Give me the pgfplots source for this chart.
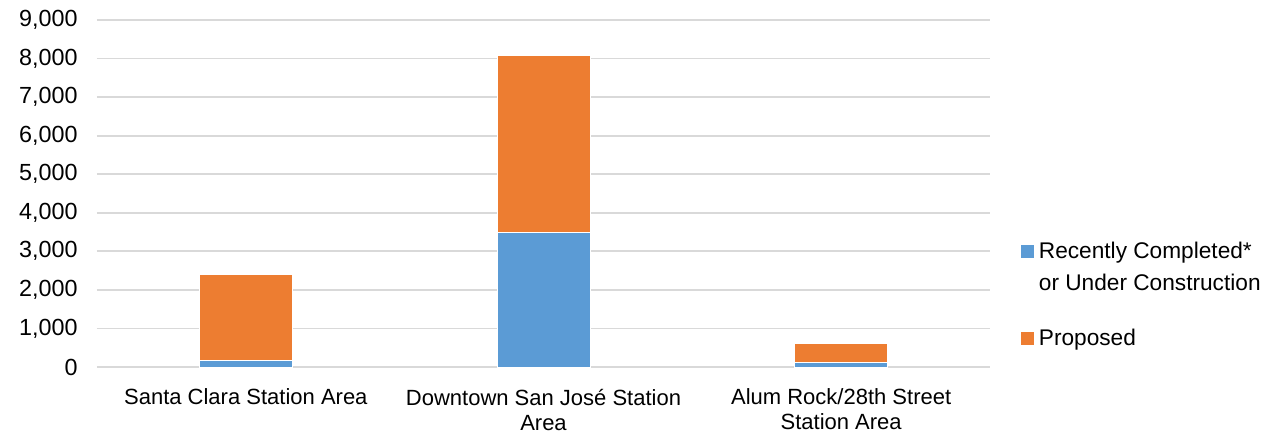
\documentclass[border=0pt]{standalone}
\usepackage{pgfplots}
\pgfplotsset{compat=1.18}
\usepackage{fontspec}
\setmainfont{Liberation Sans}

\definecolor{compblue}{HTML}{5B9BD5}
\definecolor{proporange}{HTML}{ED7D31}
\definecolor{gridgray}{HTML}{D9D9D9}

\begin{document}
\begin{tikzpicture}
% page frame around the plot area and its labels
\useasboundingbox (-72.75pt,-49.5pt) rectangle (885.75pt,275.25pt);
\begin{axis}[
  at={(0,0)}, anchor=south west,
  scale only axis,
  width=669.75pt, height=260.25pt,
  ybar stacked, bar width=69.75pt,
  xmin=-0.5, xmax=2.5,
  ymin=0, ymax=9000,
  xtick={0,1,2},
  xticklabels={{Santa Clara Station Area},
               {Downtown San José Station\\Area},
               {Alum Rock/28th Street\\Station Area}},
  ytick={0,1000,...,9000},
  /pgf/number format/.cd, 1000 sep={,}, assume math mode=true,
  /pgfplots/.cd,
  axis line style={draw=none},
  major tick length=0pt,
  ymajorgrids,
  grid style={gridgray, line width=1.3pt},
  yticklabel style={font=\fontsize{17.5}{20}\selectfont, xshift=-11pt},
  xticklabel style={font=\fontsize{16.5}{18.75}\selectfont, align=center, yshift=-13pt},
  legend cell align=left,
  legend style={at={(1.0347,0.209)}, anchor=west, draw=none, fill=none,
                font=\fontsize{17}{24}\selectfont,
                cells={anchor=west, align=left},
                row sep=23.5pt, column sep=1.5pt, inner sep=0pt},
]
% blue key sits beside the first line of its two-line entry
\addplot[fill=compblue, draw=white, line width=0.6pt,
  legend image code/.code={%
    \path[draw=none, fill=none] (0pt,-16.125pt) rectangle (9.75pt,16.125pt);
    \fill[compblue, draw=none] (0pt,6.375pt) rectangle (9.75pt,16.125pt);}]
  coordinates {(0,160) (1,3490) (2,110)};
\addlegendentry{Recently Completed*\\or Under Construction}
\addplot[fill=proporange, draw=white, line width=0.6pt,
  legend image code/.code={%
    \fill[proporange, draw=none] (0pt,-4.875pt) rectangle (9.75pt,4.875pt);}]
  coordinates {(0,2240) (1,4590) (2,490)};
\addlegendentry{Proposed}
\end{axis}
\end{tikzpicture}
\end{document}
